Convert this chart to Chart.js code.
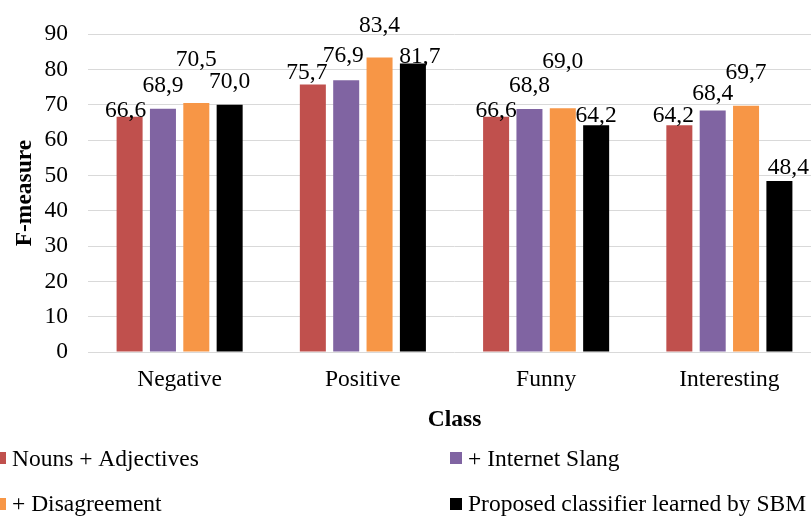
<!DOCTYPE html>
<html>
<head>
<meta charset="utf-8">
<script src="https://cdn.jsdelivr.net/npm/chart.js@4.4.0/dist/chart.umd.min.js"></script>
<style>
  html, body { margin: 0; padding: 0; background: #fff; overflow: hidden; }
  #wrap { width: 822px; height: 520px; }
</style>
</head>
<body>
<div id="wrap"><canvas id="c" width="822" height="520"></canvas></div>
<script>
// F-measure per class for each feature set
const categories = ['Negative', 'Positive', 'Funny', 'Interesting'];
const seriesNames = ['Nouns + Adjectives', '+ Internet Slang', '+ Disagreement', 'Proposed classifier learned by SBM'];
const nounsAdjectives = [66.6, 75.7, 66.6, 64.2];
const internetSlang   = [68.9, 76.9, 68.8, 68.4];
const disagreement    = [70.5, 83.4, 69.0, 69.7];
const proposedSBM     = [70.0, 81.7, 64.2, 48.4];
const yTickValues = [0, 10, 20, 30, 40, 50, 60, 70, 80, 90];

const seriesColors = ['#C0504D', '#8064A2', '#F79646', '#000000'];

// value-label nudges (px) so neighbouring labels don't collide
const labelLift  = [[0, 6, 0, 3], [17, 18, 17, 10], [37, 25, 40, 27], [17, 0, 3, 7]];
const labelShift = [[-4, -6, 0, -6], [0, -3, 0, 0], [0, 0, 0, 0], [0, 7, 0, 9]];

const FONT = '"Liberation Serif", "Times New Roman", serif';
const FS = 23.5;
Chart.defaults.font.family = FONT;
Chart.defaults.font.size = FS;
Chart.defaults.color = '#000';

const fmt = v => v.toFixed(1).replace('.', ',');

const valueLabels = {
  id: 'valueLabels',
  afterDatasetsDraw(chart) {
    const ctx = chart.ctx;
    ctx.save();
    ctx.font = `${FS}px ${FONT}`;
    ctx.fillStyle = '#000';
    ctx.textAlign = 'center';
    ctx.textBaseline = 'alphabetic';
    chart.data.datasets.forEach((ds, i) => {
      const meta = chart.getDatasetMeta(i);
      meta.data.forEach((bar, j) => {
        ctx.fillText(fmt(ds.data[j]), bar.x + labelShift[i][j], bar.y - labelLift[i][j]);
      });
    });
    ctx.restore();
  }
};

// two-column legend under the axis title
const gridLegend = {
  id: 'gridLegend',
  afterDraw(chart) {
    const ctx = chart.ctx;
    const boxX = [-6, 450], textX = [12, 468];
    const boxY = [452, 498], baseY = [466, 511];
    ctx.save();
    ctx.font = `${FS}px ${FONT}`;
    ctx.textAlign = 'left';
    ctx.textBaseline = 'alphabetic';
    chart.data.datasets.forEach((ds, i) => {
      const col = i % 2, row = Math.floor(i / 2);
      ctx.fillStyle = ds.backgroundColor;
      ctx.fillRect(boxX[col], boxY[row], 12, 12);
      ctx.fillStyle = '#000';
      ctx.fillText(ds.label, textX[col], baseY[row]);
    });
    ctx.restore();
  }
};

const seriesData = [nounsAdjectives, internetSlang, disagreement, proposedSBM];

new Chart(document.getElementById('c'), {
  type: 'bar',
  data: {
    labels: categories,
    datasets: seriesData.map((d, i) => ({
      label: seriesNames[i],
      data: d,
      backgroundColor: seriesColors[i],
      borderWidth: 0,
      categoryPercentage: 0.728,
      barPercentage: 0.78
    }))
  },
  options: {
    responsive: false,
    animation: false,
    layout: { padding: { left: 0, right: 1, top: 27, bottom: 86 } },
    plugins: { legend: { display: false }, tooltip: { enabled: false } },
    scales: {
      x: {
        grid: { display: false, drawTicks: false },
        border: { display: false },
        ticks: { padding: 14, font: { size: FS } },
        title: { display: true, text: 'Class', font: { size: FS, weight: 'bold' }, padding: { top: 0, bottom: 0 } },
        afterFit(s) { s.height = 82; }
      },
      y: {
        min: 0, max: 90,
        afterBuildTicks(s) { s.ticks = yTickValues.map(v => ({ value: v })); },
        grid: { color: '#d9d9d9', lineWidth: 1, drawTicks: false },
        border: { display: false },
        ticks: { padding: 20, font: { size: FS } },
        title: { display: true, text: 'F-measure', font: { size: FS, weight: 'bold' }, padding: { top: 11, bottom: 0 } },
        afterFit(s) { s.width = 88; }
      }
    }
  },
  plugins: [valueLabels, gridLegend]
});
</script>
</body>
</html>
